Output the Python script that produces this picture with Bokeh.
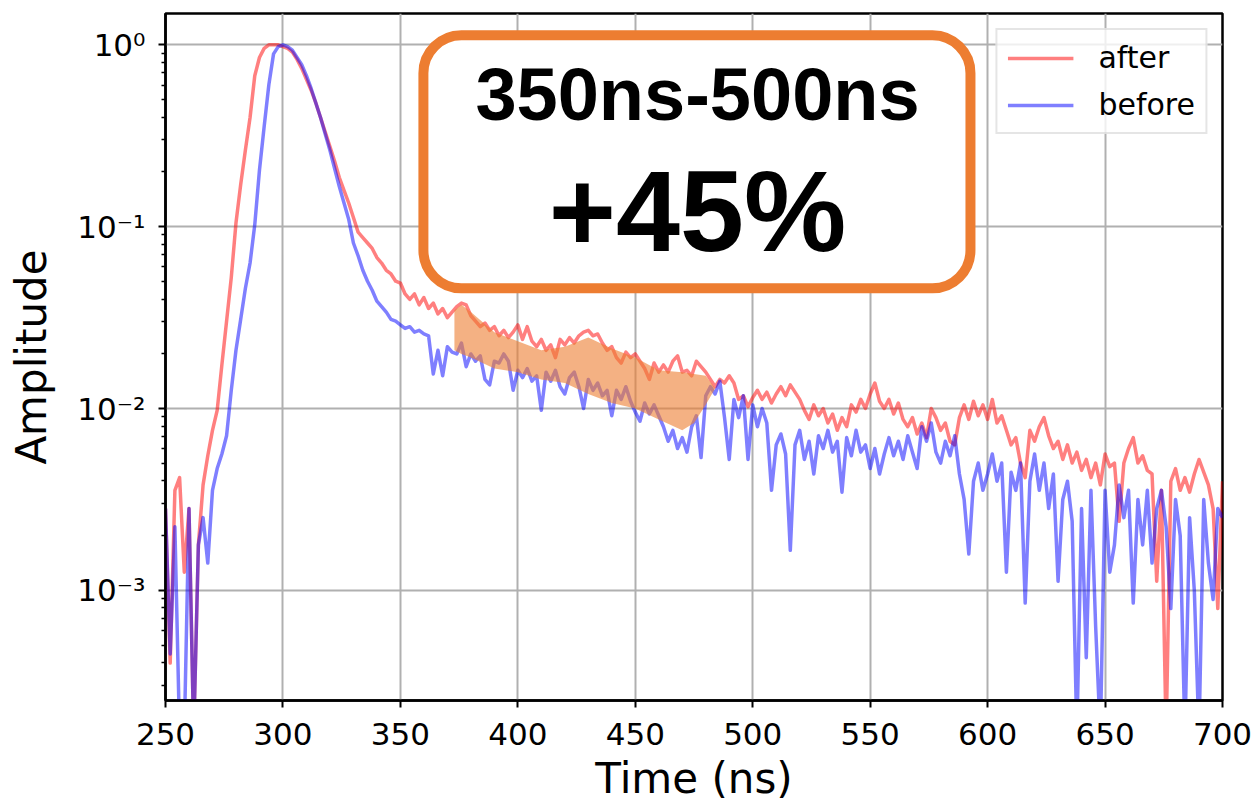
import numpy as np
from bokeh.plotting import figure
from bokeh.models import Range1d, FixedTicker, CustomJSTickFormatter, BoxAnnotation, Label
from bokeh.embed import file_html
from bokeh.resources import INLINE

# ---------------- data ----------------
time_ns = list(range(250, 701, 2))

# log10 of amplitude, one value every 2 ns from 250 to 700 ns
after_log10 = [
    -2.55, -3.40, -2.45, -2.38, -2.90, -2.55, -3.80, -2.75, -2.42, -2.26,  # 250
    -2.12, -2.01, -1.76, -1.52, -1.28, -0.98, -0.77, -0.58, -0.40, -0.17,  # 270
    -0.07, -0.02, 0.00, 0.00, 0.00, -0.01, -0.02, -0.04, -0.08, -0.13,     # 290
    -0.19, -0.25, -0.32, -0.40, -0.48, -0.56, -0.64, -0.73, -0.80, -0.87,  # 310
    -0.95, -1.03, -1.06, -1.09, -1.12, -1.17, -1.20, -1.24, -1.26, -1.30,  # 330
    -1.31, -1.37, -1.40, -1.37, -1.43, -1.39, -1.45, -1.42, -1.48, -1.45,  # 350
    -1.50, -1.47, -1.44, -1.42, -1.43, -1.49, -1.52, -1.55, -1.53, -1.57,  # 370
    -1.55, -1.60, -1.57, -1.61, -1.58, -1.54, -1.62, -1.55, -1.63, -1.66,  # 390
    -1.62, -1.68, -1.65, -1.72, -1.62, -1.65, -1.61, -1.64, -1.60, -1.58,  # 410
    -1.57, -1.60, -1.59, -1.64, -1.68, -1.66, -1.72, -1.75, -1.69, -1.72,  # 430
    -1.70, -1.74, -1.78, -1.84, -1.75, -1.80, -1.76, -1.80, -1.74, -1.71,  # 450
    -1.80, -1.79, -1.82, -1.74, -1.77, -1.80, -1.84, -1.88, -1.84, -1.86,  # 470
    -1.82, -1.86, -1.95, -1.93, -1.99, -1.94, -1.90, -1.95, -1.91, -1.97,  # 490
    -1.92, -1.88, -1.93, -1.87, -1.91, -1.95, -2.01, -2.06, -1.98, -2.04,  # 510
    -2.00, -2.08, -2.03, -2.12, -2.05, -2.10, -1.98, -2.02, -1.95, -2.00,  # 530
    -1.92, -1.86, -1.96, -2.00, -1.95, -2.03, -1.97, -2.06, -2.10, -2.05,  # 550
    -2.14, -2.08, -2.16, -2.00, -2.05, -2.12, -2.08, -2.18, -2.20, -2.05,  # 570
    -1.98, -2.06, -1.96, -2.04, -1.98, -2.06, -1.95, -2.08, -2.04, -2.12,  # 590
    -2.20, -2.16, -2.30, -2.38, -2.12, -2.18, -2.10, -2.05, -2.15, -2.22,  # 610
    -2.18, -2.28, -2.20, -2.30, -2.24, -2.34, -2.28, -2.38, -2.30, -2.42,  # 630
    -2.25, -2.32, -2.30, -2.62, -2.30, -2.22, -2.16, -2.30, -2.26, -2.34,  # 650
    -2.36, -2.95, -2.45, -3.80, -2.40, -2.33, -2.45, -2.38, -2.46, -2.36,  # 670
    -2.28, -2.35, -2.42, -2.55, -3.10, -2.40,                              # 690
]

before_log10 = [
    -2.55, -3.35, -2.65, -3.80, -3.80, -2.55, -3.80, -2.75, -2.60, -2.85,  # 250
    -2.45, -2.33, -2.25, -2.15, -1.90, -1.68, -1.51, -1.34, -1.20, -0.99,  # 270
    -0.69, -0.45, -0.22, -0.05, -0.01, 0.00, -0.01, -0.03, -0.07, -0.11,   # 290
    -0.17, -0.24, -0.32, -0.40, -0.49, -0.58, -0.68, -0.78, -0.87, -0.96,  # 310
    -1.09, -1.16, -1.24, -1.30, -1.35, -1.41, -1.44, -1.47, -1.51, -1.52,  # 330
    -1.54, -1.56, -1.55, -1.58, -1.57, -1.59, -1.60, -1.81, -1.68, -1.82,  # 350
    -1.66, -1.69, -1.70, -1.64, -1.77, -1.70, -1.74, -1.71, -1.84, -1.87,  # 370
    -1.74, -1.75, -1.70, -1.74, -1.90, -1.79, -1.83, -1.78, -1.85, -1.82,  # 390
    -2.01, -1.80, -1.85, -1.79, -1.88, -1.92, -1.83, -1.80, -1.88, -2.00,  # 410
    -1.84, -1.90, -1.86, -1.93, -1.90, -2.04, -1.90, -1.95, -1.88, -1.96,  # 430
    -2.02, -2.07, -1.97, -2.03, -1.98, -2.04, -2.10, -2.18, -2.12, -2.22,  # 450
    -2.16, -2.24, -2.10, -2.04, -2.27, -1.93, -1.88, -1.92, -1.85, -2.05,  # 470
    -2.28, -1.95, -2.05, -1.93, -2.28, -1.98, -2.10, -2.00, -2.08, -2.45,  # 490
    -2.20, -2.14, -2.25, -2.78, -2.20, -2.12, -2.28, -2.18, -2.36, -2.15,  # 510
    -2.22, -2.12, -2.24, -2.18, -2.46, -2.16, -2.26, -2.12, -2.24, -2.20,  # 530
    -2.33, -2.22, -2.36, -2.25, -2.16, -2.26, -2.18, -2.28, -2.15, -2.24,  # 550
    -2.33, -2.10, -2.18, -2.08, -2.24, -2.30, -2.18, -2.26, -2.15, -2.36,  # 570
    -2.50, -2.80, -2.40, -2.30, -2.45, -2.36, -2.25, -2.40, -2.30, -2.90,  # 590
    -2.35, -2.45, -2.30, -3.07, -2.40, -2.25, -2.45, -2.30, -2.55, -2.36,  # 610
    -2.95, -2.50, -2.40, -2.62, -3.80, -2.55, -3.37, -2.45, -3.20, -3.80,  # 630
    -2.45, -2.90, -2.75, -2.42, -2.60, -2.45, -3.07, -2.50, -2.75, -2.45,  # 650
    -2.85, -2.55, -2.45, -2.65, -3.10, -2.50, -2.70, -3.80, -2.60, -3.00,  # 670
    -3.80, -2.50, -2.85, -3.05, -2.55, -2.60,                              # 690
]

# shaded 350ns-500ns difference region (log10 of amplitude)
fill_time = [373, 376, 380, 390, 400, 410, 420, 430, 440, 450, 460, 470, 475, 480, 484]
fill_upper_log10 = [-1.46, -1.43, -1.47, -1.58, -1.63, -1.68, -1.66, -1.61, -1.67, -1.72,
                    -1.79, -1.80, -1.81, -1.82, -1.89]
fill_lower_log10 = [-1.68, -1.70, -1.72, -1.78, -1.80, -1.84, -1.86, -1.92, -1.97, -2.00,
                    -2.06, -2.12, -2.08, -1.98, -1.89]

x_ticks = [250, 300, 350, 400, 450, 500, 550, 600, 650, 700]
y_ticks = [1e-3, 1e-2, 1e-1, 1.0]
series_names = ["after", "before"]
box_title = "350ns-500ns"
box_value = "+45%"

after = [10 ** v for v in after_log10]
before = [10 ** v for v in before_log10]
fill_upper = [10 ** v for v in fill_upper_log10]
fill_lower = [10 ** v for v in fill_lower_log10]

# ---------------- figure ----------------
p = figure(width=1257, height=807, output_backend="svg", toolbar_location=None,
           y_axis_type="log",
           x_range=Range1d(250, 700), y_range=Range1d(2.48e-4, 1.486),
           min_border_left=165, min_border_right=35, min_border_top=13, min_border_bottom=107)
p.background_fill_color = "white"
p.border_fill_color = "white"
p.outline_line_color = "black"
p.outline_line_width = 2.5

p.line(time_ns, after, line_color="#ff0000", line_alpha=0.5, line_width=3.5,
       line_join="round", legend_label=series_names[0])
p.line(time_ns, before, line_color="#0000ff", line_alpha=0.5, line_width=3.5,
       line_join="round", legend_label=series_names[1])
p.varea(x=fill_time, y1=fill_lower, y2=fill_upper, fill_color="#ED7D31", fill_alpha=0.6)

# axes
p.xaxis.ticker = FixedTicker(ticks=x_ticks)
minor = [m * 10.0 ** e for e in range(-4, 1) for m in range(2, 10)]
p.yaxis.ticker = FixedTicker(ticks=y_ticks, minor_ticks=minor)
p.yaxis.formatter = CustomJSTickFormatter(code="""
const e = Math.round(Math.log10(tick));
const sup = {"-": "\u207b", "0": "\u2070", "1": "\u00b9", "2": "\u00b2", "3": "\u00b3", "4": "\u2074"};
return "10" + String(e).split("").map(c => sup[c]).join("");
""")

for ax in (p.xaxis[0], p.yaxis[0]):
    ax.major_label_text_font = "DejaVu Sans"
    ax.major_label_text_font_size = "31px"
    ax.major_label_text_color = "black"
    ax.axis_label_text_font = "DejaVu Sans"
    ax.axis_label_text_font_size = "42px"
    ax.axis_label_text_font_style = "normal"
    ax.axis_label_text_color = "black"
    ax.axis_line_width = 2.5
    ax.axis_line_color = "black"
    ax.major_tick_line_width = 2
    ax.major_tick_line_color = "black"
    ax.major_tick_out = 7
    ax.major_tick_in = 0
    ax.minor_tick_line_width = 1.5
    ax.minor_tick_line_color = "black"
    ax.minor_tick_out = 4
    ax.minor_tick_in = 0
p.xaxis.minor_tick_line_color = None
p.xaxis.axis_label = "Time (ns)"
p.yaxis.axis_label = "Amplitude"
p.xaxis.major_label_standoff = 15
p.xaxis.axis_label_standoff = 6
p.yaxis.major_label_standoff = 13
p.yaxis.axis_label_standoff = 18

p.grid.grid_line_color = "#b0b0b0"
p.grid.grid_line_width = 2
p.ygrid.minor_grid_line_color = None

# annotation box
box = BoxAnnotation(left=359.8, right=592.7, bottom=0.0458, top=1.128,
                    fill_color="white", fill_alpha=1.0,
                    line_color="#ED7D31", line_alpha=1.0, line_width=10, border_radius=38)
p.add_layout(box)
p.add_layout(Label(x=476.5, y=0.5362, text=box_title, text_font="Liberation Sans",
                   text_font_size="74px", text_font_style="bold", text_color="black",
                   text_align="center", text_baseline="alphabetic"))
p.add_layout(Label(x=476.5, y=0.1214, text=box_value, text_font="Liberation Sans",
                   text_font_size="115px", text_font_style="bold", text_color="black",
                   text_align="center", text_baseline="alphabetic"))

# legend
lg = p.legend[0]
lg.location = "top_right"
lg.margin = 15
lg.padding = 10
lg.spacing = 12
lg.glyph_width = 66
lg.glyph_height = 32
lg.label_height = 32
lg.label_standoff = 25
lg.label_text_font = "DejaVu Sans"
lg.label_text_font_size = "30px"
lg.label_text_color = "black"
lg.border_line_color = "#cccccc"
lg.border_line_width = 2
lg.background_fill_alpha = 0.8

open("out.html", "w").write(file_html(p, INLINE))
